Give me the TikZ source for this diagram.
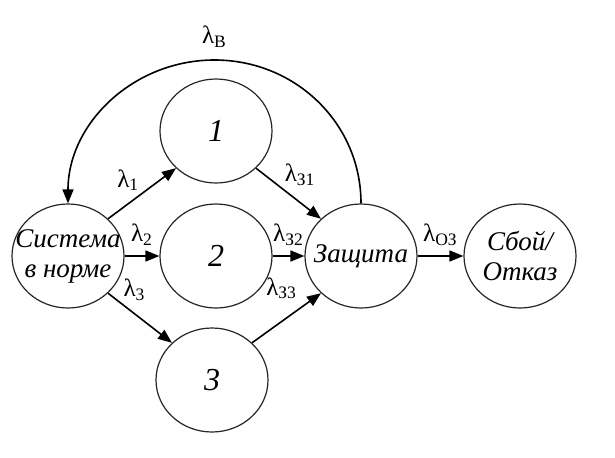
\documentclass[tikz,border=0pt]{standalone}
\usepackage{fontspec}
\setmainfont{Liberation Serif}
\usetikzlibrary{shapes.geometric,arrows.meta}
\newcommand{\lmb}[1]{λ\textsubscript{#1}}
\tikzset{
    state/.style={ellipse, draw=black!85, line width=0.6pt, minimum width=56pt, minimum height=52pt, inner sep=0pt, font=\fontsize{16}{18}\selectfont\itshape},
    statetext/.style={align=center, inner sep=0pt, font=\fontsize{13.5}{15}\selectfont\itshape},
    arr/.style={-{Triangle[length=7pt,width=5.5pt]}, line width=0.8pt},
    rate/.style={inner sep=1pt, font=\fontsize{12.5}{14}\selectfont},
}
\begin{document}
\begin{tikzpicture}[x=0.5pt,y=0.5pt]
    \useasboundingbox (0,0) rectangle (615,457);
    \node[state, label={[statetext]center:{Система\\в норме}}] (S) at (68,201) {};
    \node[state] (n1) at (216,326) {1};
    \node[state] (n2) at (216,201) {2};
    \node[state] (n3) at (212,77) {3};
    \node[state, label={[statetext]center:Защита}] (Z) at (361,201) {};
    \node[state, label={[statetext]center:{Сбой/\\Отказ}}] (F) at (520,201) {};
    \coordinate (top) at (214.5,397);

    \draw[arr] (S) -- node[rate, above=4pt] {\lmb{2}} (n2);
    \draw[arr] (n2) -- node[rate, above=4pt] {\lmb{З2}} (Z);
    \draw[arr] (Z) -- node[rate, above=4pt] {\lmb{ОЗ}} (F);
    \draw[arr] (S.north east) -- node[rate, above left] {\lmb{1}} (n1.south west);
    \draw[arr] (S.south east) -- node[rate, pos=.2, above right] {\lmb{3}} (n3.north west);
    \draw[arr] (n1.south east) -- node[rate, pos=.4, above right] {\lmb{З1}} (Z.north west);
    \draw[arr] (n3.north east) -- node[rate, pos=.75, above left=2pt] {\lmb{З3}} (Z.south west);
    \draw[arr] (Z.north) .. controls +(0,80) and +(81,0) .. (top)
        node[rate, above=5pt] {\lmb{В}}
        .. controls +(-81,0) and +(0,80) .. (S.north);
\end{tikzpicture}
\end{document}
